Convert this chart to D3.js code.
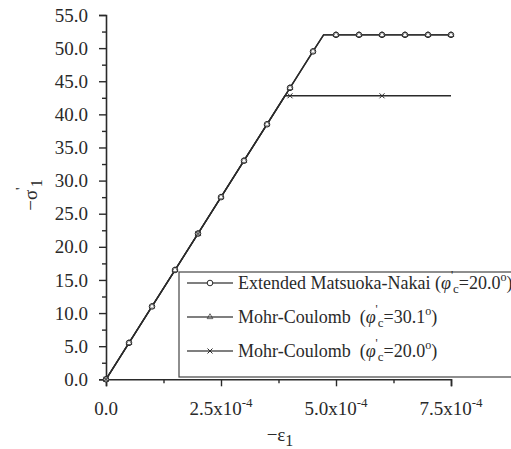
<!DOCTYPE html>
<html>
<head>
<meta charset="utf-8">
<script src="https://cdn.jsdelivr.net/npm/d3@7"></script>
</head>
<body style="margin:0;background:#fff">
<svg id="chart" width="511" height="449" style="display:block"></svg>
<script>
// Axial strain (-ε1) and effective axial stress (-σ'1) for three yield criteria
const strainMN = [0, 0.5e-4, 1.0e-4, 1.5e-4, 2.0e-4, 2.5e-4, 3.0e-4, 3.5e-4, 4.0e-4, 4.5e-4, 4.73e-4, 5.0e-4, 5.5e-4, 6.0e-4, 6.5e-4, 7.0e-4, 7.5e-4];
const stressMN = [0, 5.5, 11.0, 16.5, 22.0, 27.5, 33.0, 38.5, 44.0, 49.5, 52.0, 52.0, 52.0, 52.0, 52.0, 52.0, 52.0];
const markersMN = [0, 1, 2, 3, 4, 5, 6, 7, 8, 9, 11, 12, 13, 14, 15, 16];

const strainMC30 = [0, 0.5e-4, 1.0e-4, 1.5e-4, 2.0e-4, 2.5e-4, 3.0e-4, 3.5e-4, 4.0e-4, 4.5e-4, 4.73e-4, 5.0e-4, 5.5e-4, 6.0e-4, 6.5e-4, 7.0e-4, 7.5e-4];
const stressMC30 = [0, 5.5, 11.0, 16.5, 22.0, 27.5, 33.0, 38.5, 44.0, 49.5, 52.0, 52.0, 52.0, 52.0, 52.0, 52.0, 52.0];
const markersMC30 = [0, 1, 2, 3, 4, 5, 6, 7, 8, 9, 11, 12, 13, 14, 15, 16];

const strainMC20 = [0, 2.0e-4, 3.89e-4, 4.0e-4, 6.0e-4, 7.5e-4];
const stressMC20 = [0, 22.0, 42.8, 42.8, 42.8, 42.8];
const markersMC20 = [0, 1, 3, 4];

const yTicks = [0, 5, 10, 15, 20, 25, 30, 35, 40, 45, 50, 55];
const xTicks = [0, 2.5e-4, 5.0e-4, 7.5e-4];
const xTickLabels = [["0.0", ""], ["2.5x10", "-4"], ["5.0x10", "-4"], ["7.5x10", "-4"]];

const legendNames = ["Extended Matsuoka-Nakai", "Mohr-Coulomb", "Mohr-Coulomb"];
const legendAngles = ["20.0", "30.1", "20.0"];
const legendGaps = ["\u00a0(", "\u00a0\u00a0(", "\u00a0\u00a0("];

const serif = "Liberation Serif";
const svg = d3.select("#chart");
const ink = "#2a2a2a";

const x = d3.scaleLinear().domain([0, 7.5e-4]).range([106, 451]);
const y = d3.scaleLinear().domain([0, 55]).range([379.3, 15]);

// axes: major ticks with labels, minor ticks between them
const yAxis = svg.append("g").attr("transform", `translate(${x(0)},0)`)
  .call(d3.axisLeft(y).tickValues(yTicks).tickSize(7).tickPadding(11).tickFormat(d3.format(".1f")));
svg.append("g").attr("transform", `translate(${x(0)},0)`)
  .call(d3.axisLeft(y).tickValues(d3.range(2.5, 55, 5)).tickSize(4).tickFormat(""))
  .select(".domain").remove();

svg.append("g").attr("transform", `translate(0,${y(0)})`)
  .call(d3.axisBottom(x).tickValues(xTicks).tickSize(7).tickFormat(""));
svg.append("g").attr("transform", `translate(0,${y(0)})`)
  .call(d3.axisBottom(x).tickValues([1.25e-4, 3.75e-4, 6.25e-4]).tickSize(4).tickFormat(""))
  .select(".domain").remove();

svg.selectAll("g").attr("font-family", null);
svg.selectAll(".domain").attr("stroke", ink).attr("stroke-width", 1.6);
svg.selectAll(".tick line").attr("stroke", ink).attr("stroke-width", 1.4);
yAxis.selectAll(".tick text").attr("font-size", 19).attr("fill", ink).style("font-family", serif);

// x tick labels with superscript exponent
xTicks.forEach((v, i) => {
  const t = svg.append("text").attr("x", x(v)).attr("y", 415).style("font-family", serif)
    .attr("text-anchor", "middle").attr("font-size", 19).attr("fill", ink);
  t.append("tspan").text(xTickLabels[i][0]);
  if (xTickLabels[i][1]) {
    t.append("tspan").attr("dy", -8).attr("font-size", 13).text(xTickLabels[i][1]);
  }
});

// axis titles
const xt = svg.append("text").attr("x", 280).attr("y", 441).style("font-family", serif)
  .attr("text-anchor", "middle").attr("font-size", 19).attr("fill", ink);
xt.append("tspan").text("\u2212\u03b5");
xt.append("tspan").attr("dy", 5).attr("font-size", 16).text("1");

const yt = svg.append("text").attr("transform", "translate(37,195) rotate(-90)").style("font-family", serif)
  .attr("text-anchor", "middle").attr("font-size", 19).attr("fill", ink);
yt.append("tspan").text("\u2212\u03c3");
yt.append("tspan").attr("dy", -11).attr("font-size", 15).text("'");
yt.append("tspan").attr("dy", 16).attr("font-size", 16).text("1");

// series lines and markers
const series = [
  { xs: strainMN, ys: stressMN, m: markersMN, kind: "circle" },
  { xs: strainMC30, ys: stressMC30, m: markersMC30, kind: "triangle" },
  { xs: strainMC20, ys: stressMC20, m: markersMC20, kind: "cross" }
];
const line = d3.line().x(d => x(d[0])).y(d => y(d[1]));

function drawMarker(g, kind, cx, cy) {
  if (kind === "circle") {
    g.append("circle").attr("cx", cx).attr("cy", cy).attr("r", 2.8)
      .attr("fill", "#fff").attr("stroke", ink).attr("stroke-width", 1);
  } else if (kind === "triangle") {
    g.append("path").attr("d", d3.symbol(d3.symbolTriangle, 14)())
      .attr("transform", `translate(${cx},${cy})`)
      .attr("fill", "none").attr("stroke", ink).attr("stroke-width", 0.7);
  } else {
    g.append("path").attr("d", `M${cx - 2.5},${cy - 2.5}L${cx + 2.5},${cy + 2.5}M${cx - 2.5},${cy + 2.5}L${cx + 2.5},${cy - 2.5}`)
      .attr("stroke", ink).attr("stroke-width", 1);
  }
}

series.forEach(s => {
  const pts = s.xs.map((v, i) => [v, s.ys[i]]);
  svg.append("path").datum(pts).attr("d", line)
    .attr("fill", "none").attr("stroke", ink).attr("stroke-width", 1.4);
});
series.forEach(s => {
  const g = svg.append("g");
  s.m.forEach(i => drawMarker(g, s.kind, x(s.xs[i]), y(s.ys[i])));
});

// legend
const lg = svg.append("g");
lg.append("rect").attr("x", 179).attr("y", 272).attr("width", 360).attr("height", 105)
  .attr("fill", "#fff").attr("stroke", "#444").attr("stroke-width", 1.2);
const kinds = ["circle", "triangle", "cross"];
kinds.forEach((k, i) => {
  const ry = 283 + i * 34;
  lg.append("line").attr("x1", 187).attr("x2", 233).attr("y1", ry).attr("y2", ry)
    .attr("stroke", "#555").attr("stroke-width", 1.3);
  drawMarker(lg, k, 210, ry);
  const t = lg.append("text").attr("x", 238).attr("y", ry + 6).style("font-family", serif)
    .attr("font-size", 18).attr("fill", ink);
  t.append("tspan").text(legendNames[i] + legendGaps[i]);
  t.append("tspan").attr("font-style", "italic").text("\u03c6");
  t.append("tspan").attr("dy", -10).attr("font-size", 12).text("'");
  t.append("tspan").attr("dy", 14).attr("font-size", 13).text("c");
  t.append("tspan").attr("dy", -4).text("=" + legendAngles[i]);
  t.append("tspan").attr("dy", -8).attr("font-size", 12).text("o");
  t.append("tspan").attr("dy", 8).text(")");
});
</script>
</body>
</html>
